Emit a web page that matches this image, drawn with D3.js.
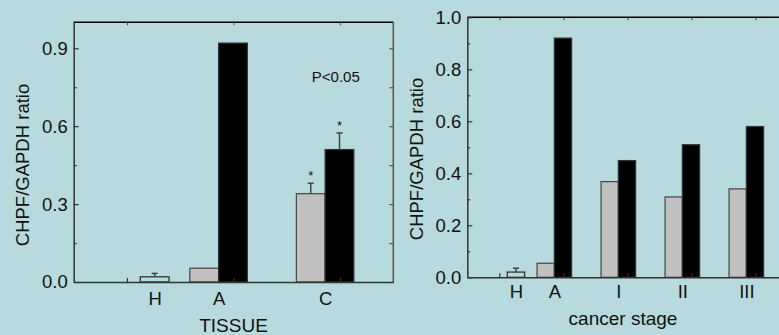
<!DOCTYPE html>
<html>
<head>
<meta charset="utf-8">
<script src="https://cdn.jsdelivr.net/npm/d3@7"></script>
<style>
	html, body { margin: 0; padding: 0; background: #b6dadd; }
	svg { display: block; }
	text { font-family: "Liberation Sans", Arial, sans-serif; fill: #111; }
</style>
</head>
<body>
<div id="chart"></div>
<script>
(function () {
	'use strict';

	// ---- data ----
	// left panel: tissue
	var tissueCats = ["H", "A", "C"];
	var tissueSlot = [1.26, 1.86, 2.86];        // x position in axis units
	var tissueWhite = [0.02, null, null];
	var tissueWhiteErr = [0.013, null, null];
	var tissueGray = [null, 0.053, 0.34];
	var tissueGrayErr = [null, 0, 0.04];
	var tissueBlack = [null, 0.92, 0.51];
	var tissueBlackErr = [null, 0, 0.064];
	var tissueStars = [false, false, true];
	var tissueTicks = [0, 0.3, 0.6, 0.9];
	var tissueMinor = [0.15, 0.45, 0.75];

	// right panel: cancer stage
	var stageCats = ["H", "A", "I", "II", "III"];
	var stageSlot = [1.26, 1.86, 2.86, 3.86, 4.86];
	var stageWhite = [0.02, null, null, null, null];
	var stageWhiteErr = [0.015, null, null, null, null];
	var stageGray = [null, 0.054, 0.368, 0.309, 0.34];
	var stageGrayErr = [null, 0, 0, 0, 0];
	var stageBlack = [null, 0.92, 0.449, 0.51, 0.58];
	var stageBlackErr = [null, 0, 0, 0, 0];
	var stageStars = [false, false, false, false, false];
	var stageTicks = [0, 0.2, 0.4, 0.6, 0.8, 1.0];
	var stageMinor = [0.1, 0.3, 0.5, 0.7, 0.9];

	var width = 779, height = 335;
	var barW = 0.27; // bar width in axis units

	var svg = d3.select("#chart").append("svg")
		.attr("width", width)
		.attr("height", height);

	svg.append("rect")
		.attr("width", width)
		.attr("height", height)
		.attr("fill", "#b6dadd");

	drawPanel({
		x0: 73.7, x1: 393.3, y0: 22.3, y1: 282,
		xDomain: [0.5, 3.5], xTicks: [1, 2, 3],
		cats: tissueCats, slot: tissueSlot,
		white: tissueWhite, whiteErr: tissueWhiteErr,
		gray: tissueGray, grayErr: tissueGrayErr,
		black: tissueBlack, blackErr: tissueBlackErr,
		stars: tissueStars,
		yTicks: tissueTicks, yMinor: tissueMinor,
		labelPad: 10,
		yTitle: { x: 23, y: 165 },
		xTitle: { text: "TISSUE", x: 233.5, y: 332 },
		note: { text: "P<0.05", x: 2.96, y: 0.77 }
	});

	drawPanel({
		x0: 467.3, x1: 787.3, y0: 17.3, y1: 277.3,
		xDomain: [0.5, 5.5], xTicks: [1, 2, 3, 4, 5],
		cats: stageCats, slot: stageSlot,
		white: stageWhite, whiteErr: stageWhiteErr,
		gray: stageGray, grayErr: stageGrayErr,
		black: stageBlack, blackErr: stageBlackErr,
		stars: stageStars,
		yTicks: stageTicks, yMinor: stageMinor,
		labelPad: 8,
		yTitle: { x: 417, y: 159 },
		xTitle: { text: "cancer stage", x: 623, y: 325 },
		note: null
	});

	function drawPanel(cfg) {
		var x = d3.scaleLinear().domain(cfg.xDomain).range([cfg.x0, cfg.x1]);
		var y = d3.scaleLinear().domain([0, 1]).range([cfg.y1, cfg.y0]);
		var g = svg.append("g");
		var axisColor = "#333";

		// bars: white (hollow), gray, black
		cfg.cats.forEach(function (c, i) {
			var s = cfg.slot[i];
			if (cfg.white[i] != null) {
				g.append("rect")
					.attr("x", x(s - barW / 2))
					.attr("y", y(cfg.white[i]))
					.attr("width", x(s + barW / 2) - x(s - barW / 2))
					.attr("height", y(0) - y(cfg.white[i]))
					.attr("fill", "none")
					.attr("stroke", "#333")
					.attr("stroke-width", 1.3);
				errBar(g, x(s), y(cfg.white[i]), y(cfg.white[i] + cfg.whiteErr[i]), false);
			}
			if (cfg.gray[i] != null) {
				g.append("rect")
					.attr("x", x(s - barW))
					.attr("y", y(cfg.gray[i]))
					.attr("width", x(s) - x(s - barW))
					.attr("height", y(0) - y(cfg.gray[i]))
					.attr("fill", "#c0c0c0")
					.attr("stroke", "#444")
					.attr("stroke-width", 1.2);
				if (cfg.grayErr[i]) {
					errBar(g, x(s - barW / 2), y(cfg.gray[i]), y(cfg.gray[i] + cfg.grayErr[i]), cfg.stars[i]);
				}
			}
			if (cfg.black[i] != null) {
				g.append("rect")
					.attr("x", x(s))
					.attr("y", y(cfg.black[i]))
					.attr("width", x(s + barW) - x(s))
					.attr("height", y(0) - y(cfg.black[i]))
					.attr("fill", "#000")
					.attr("stroke", "#333")
					.attr("stroke-width", 1.2);
				if (cfg.blackErr[i]) {
					errBar(g, x(s + barW / 2), y(cfg.black[i]), y(cfg.black[i] + cfg.blackErr[i]), cfg.stars[i]);
				}
			}
		});

		// frame lines
		g.append("line").attr("x1", cfg.x0).attr("x2", cfg.x1).attr("y1", cfg.y0).attr("y2", cfg.y0)
			.attr("stroke", "#000").attr("stroke-width", 1.5);
		g.append("line").attr("x1", cfg.x1).attr("x2", cfg.x1).attr("y1", cfg.y0).attr("y2", cfg.y1)
			.attr("stroke", "#555").attr("stroke-width", 1.5);

		// left axis with labels, ticks pointing inward
		var yAxis = g.append("g")
			.attr("transform", "translate(" + cfg.x0 + ",0)")
			.call(d3.axisLeft(y).tickValues(cfg.yTicks).tickSizeInner(-5).tickSizeOuter(0)
				.tickPadding(6).tickFormat(d3.format(".1f")));
		yAxis.select(".domain").attr("stroke", axisColor).attr("stroke-width", 1.5);
		yAxis.selectAll(".tick line").attr("stroke", axisColor).attr("stroke-width", 1.2);
		yAxis.selectAll("text").attr("font-size", 18.5).attr("fill", "#111");

		var yMinorAxis = g.append("g")
			.attr("transform", "translate(" + cfg.x0 + ",0)")
			.call(d3.axisLeft(y).tickValues(cfg.yMinor).tickSize(-3).tickFormat(""));
		yMinorAxis.select(".domain").remove();
		yMinorAxis.selectAll(".tick line").attr("stroke", axisColor).attr("stroke-width", 1.2);

		// right mirror ticks
		var yRight = g.append("g")
			.attr("transform", "translate(" + cfg.x1 + ",0)")
			.call(d3.axisRight(y).tickValues(cfg.yTicks.concat(cfg.yMinor)).tickSize(-4).tickFormat(""));
		yRight.select(".domain").remove();
		yRight.selectAll(".tick line").attr("stroke", "#555").attr("stroke-width", 1.2);

		// bottom axis (ticks only, inward)
		var xAxis = g.append("g")
			.attr("transform", "translate(0," + cfg.y1 + ")")
			.call(d3.axisBottom(x).tickValues(cfg.xTicks).tickSizeInner(-4).tickSizeOuter(0).tickFormat(""));
		xAxis.select(".domain").attr("stroke", axisColor).attr("stroke-width", 1.5);
		xAxis.selectAll(".tick line").attr("stroke", axisColor).attr("stroke-width", 1.2);

		// top mirror ticks
		var xTop = g.append("g")
			.attr("transform", "translate(0," + cfg.y0 + ")")
			.call(d3.axisTop(x).tickValues(cfg.xTicks).tickSize(-3).tickFormat(""));
		xTop.select(".domain").remove();
		xTop.selectAll(".tick line").attr("stroke", "#555").attr("stroke-width", 1.2);

		// category labels
		var catAxis = g.append("g")
			.attr("transform", "translate(0," + cfg.y1 + ")")
			.call(d3.axisBottom(x).tickValues(cfg.slot).tickSize(0).tickPadding(cfg.labelPad)
				.tickFormat(function (d, i) { return cfg.cats[i]; }));
		catAxis.select(".domain").remove();
		catAxis.selectAll("text").attr("font-size", 18.5).attr("fill", "#111");

		// titles
		g.append("text")
			.attr("transform", "translate(" + cfg.yTitle.x + "," + cfg.yTitle.y + ") rotate(-90)")
			.attr("text-anchor", "middle")
			.attr("dy", "0.35em")
			.attr("font-size", 18.5)
			.text("CHPF/GAPDH ratio");

		g.append("text")
			.attr("x", cfg.xTitle.x)
			.attr("y", cfg.xTitle.y)
			.attr("text-anchor", "middle")
			.attr("font-size", 19)
			.text(cfg.xTitle.text);

		if (cfg.note) {
			g.append("text")
				.attr("x", x(cfg.note.x))
				.attr("y", y(cfg.note.y))
				.attr("text-anchor", "middle")
				.attr("font-size", 15)
				.text(cfg.note.text);
		}
	}

	function errBar(g, cx, yBase, yTop, star) {
		g.append("line")
			.attr("x1", cx).attr("x2", cx)
			.attr("y1", yBase).attr("y2", yTop)
			.attr("stroke", "#444").attr("stroke-width", 1.5);
		g.append("line")
			.attr("x1", cx - 3).attr("x2", cx + 3)
			.attr("y1", yTop).attr("y2", yTop)
			.attr("stroke", "#444").attr("stroke-width", 1.5);
		if (star) {
			g.append("text")
				.attr("x", cx)
				.attr("y", yTop - 3)
				.attr("text-anchor", "middle")
				.attr("font-size", 13)
				.attr("fill", "#333")
				.text("*");
		}
	}
}());
</script>
</body>
</html>
